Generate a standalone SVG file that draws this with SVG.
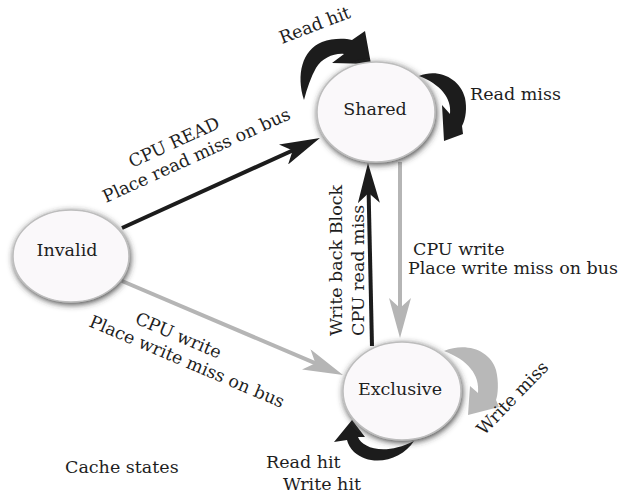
<svg xmlns="http://www.w3.org/2000/svg" width="624" height="493" viewBox="0 0 624 493">
<style>
text{font-family:"DejaVu Serif","Liberation Serif",serif;font-size:17.5px;fill:#1e1e1e}
.node ellipse{fill:#faf8fa;stroke:#bdbdbd;stroke-width:1.5;filter:url(#sh)}
.node text{text-anchor:middle}
.blk{stroke:#1c1c1c;stroke-width:4;fill:none;marker-end:url(#ab)}
.gry{stroke:#b5b5b5;stroke-width:4;fill:none;marker-end:url(#ag)}
.cb{fill:#1c1c1c}
.cg{fill:#b8b8b8}
</style>
<defs>
<filter id="sh" x="-25%" y="-25%" width="150%" height="150%">
<feGaussianBlur in="SourceAlpha" stdDeviation="3"/>
<feOffset dx="1" dy="2" result="b"/>
<feFlood flood-color="#333333" flood-opacity="0.9"/>
<feComposite in2="b" operator="in"/>
<feMerge><feMergeNode/><feMergeNode in="SourceGraphic"/></feMerge>
</filter>
<marker id="ab" markerUnits="userSpaceOnUse" viewBox="0 0 40 22" markerWidth="40" markerHeight="22" refX="25" refY="11" orient="auto"><path d="M0,0 L40,11 L0,22 L10,11 Z" fill="#1c1c1c"/></marker>
<marker id="ag" markerUnits="userSpaceOnUse" viewBox="0 0 40 22" markerWidth="40" markerHeight="22" refX="25" refY="11" orient="auto"><path d="M0,0 L40,11 L0,22 L10,11 Z" fill="#b5b5b5"/></marker>
</defs>
<rect width="624" height="493" fill="#ffffff"/>
<g id="connectors">
<line class="blk" x1="122" y1="228" x2="306.3" y2="144.2"/>
<line class="gry" x1="122" y1="281" x2="329.2" y2="369.1"/>
<line class="gry" x1="400" y1="162" x2="400" y2="323"/>
<line class="blk" x1="372" y1="346" x2="368.3" y2="178"/>
<path class="cb" d="M304,100 C296,75 302,50 322,42 C332,38 345,38 352,40 L365,31 L371,64 L332,63 L344,54 C334,53 322,58 316,68 C311,77 307,88 304,100 Z"/>
<path class="cb" d="M419,76 C438,68 460,78 465,98 C467,108 466,118 462,126 L463,134 L444,141 L442,105 L450,114 C452,98 440,84 419,76 Z"/>
<path class="cg" d="M444,351 C466,342 490,350 496,370 C499,382 498,395 496,400 L499,407 L468,415 L470,386 L478,393 C480,375 468,360 444,351 Z"/>
<path class="cb" d="M414,441 C402,460 372,468 354,452 C350,448 348,444 347,440 L334,442 L352,420 L365,437 L358,437 C362,448 385,456 414,441 Z"/>
</g>
<g id="invalid" class="node"><ellipse cx="71" cy="256" rx="58" ry="46"/><text x="67" y="256">Invalid</text></g>
<g id="shared" class="node"><ellipse cx="376" cy="112" rx="59" ry="50"/><text x="375" y="115">Shared</text></g>
<g id="exclusive" class="node"><ellipse cx="402" cy="391" rx="59" ry="49"/><text x="400" y="395">Exclusive</text></g>
<g id="labels">
<text transform="translate(282,44) rotate(-21)">Read hit</text>
<text x="470" y="100">Read miss</text>
<text transform="translate(132,168) rotate(-24.5)">CPU READ</text>
<text transform="translate(106,203) rotate(-24.5)">Place read miss on bus</text>
<text transform="translate(134,323) rotate(23)">CPU write</text>
<text transform="translate(88,326) rotate(23)">Place write miss on bus</text>
<text x="413" y="255">CPU write</text>
<text x="408" y="274">Place write miss on bus</text>
<text transform="translate(342,336) rotate(-90)">Write back Block</text>
<text transform="translate(364,336) rotate(-90)">CPU read miss</text>
<text transform="translate(484,436) rotate(-46)">Write miss</text>
<text x="65" y="473">Cache states</text>
<text x="266" y="468">Read hit</text>
<text x="283" y="490">Write hit</text>
</g>
</svg>
